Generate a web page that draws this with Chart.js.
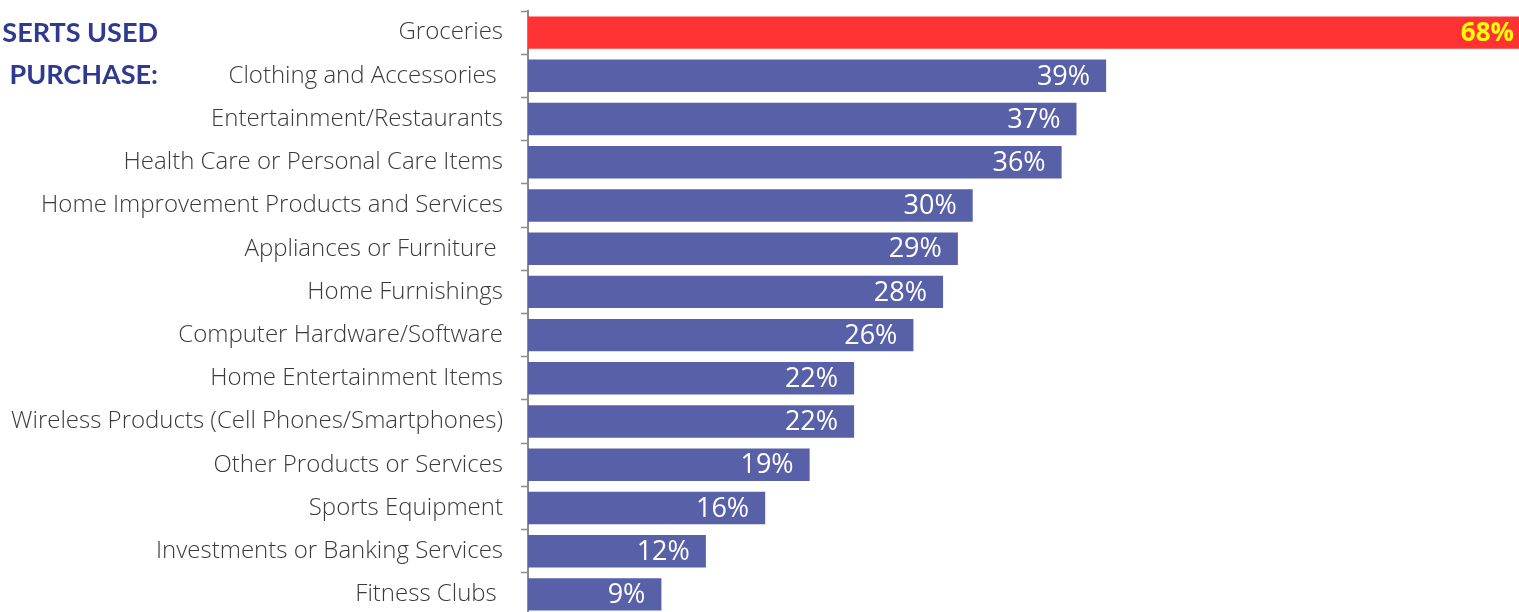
<!DOCTYPE html>
<html>
<head>
<meta charset="utf-8">
<script src="https://cdn.jsdelivr.net/npm/chart.js@4/dist/chart.umd.min.js"></script>
<style>
  html, body { margin: 0; padding: 0; overflow: hidden; background: #fff; }
  #wrap { position: relative; width: 1519px; height: 612px; overflow: hidden; }
  #chart { position: absolute; left: 0; top: 0; }
  .side-title {
    position: absolute; right: 1361px; text-align: right; white-space: nowrap;
    font-family: Lato, "Open Sans", sans-serif; font-weight: bold; font-size: 27px;
    color: #2e3a8e; line-height: 1;
  }
</style>
</head>
<body>
<div id="wrap">
  <canvas id="chart" width="1536" height="620"></canvas>
  <div class="side-title" style="top:18px">SERTS USED</div>
  <div class="side-title" style="top:60px">PURCHASE:</div>
</div>
<script>
// Categorias e percentuais
const categories = [
  'Groceries',
  'Clothing and Accessories ',
  'Entertainment/Restaurants',
  'Health Care or Personal Care Items',
  'Home Improvement Products and Services',
  'Appliances or Furniture ',
  'Home Furnishings',
  'Computer Hardware/Software',
  'Home Entertainment Items',
  'Wireless Products (Cell Phones/Smartphones)',
  'Other Products or Services',
  'Sports Equipment',
  'Investments or Banking Services',
  'Fitness Clubs '
];
const percentages = [68, 39, 37, 36, 30, 29, 28, 26, 22, 22, 19, 16, 12, 9];

const barColors = percentages.map((v, i) => i === 0 ? '#ff3333' : '#5860a8');

// Rótulos de valor dentro das barras
const valueLabels = {
  id: 'valueLabels',
  afterDatasetsDraw(chart) {
    const ctx = chart.ctx;
    const meta = chart.getDatasetMeta(0);
    ctx.save();
    ctx.textAlign = 'right';
    ctx.textBaseline = 'middle';
    meta.data.forEach((bar, i) => {
      if (i === 0) {
        ctx.fillStyle = '#ffff00';
        ctx.font = 'bold 26px "Open Sans", Lato, sans-serif';
      } else {
        ctx.fillStyle = '#ffffff';
        ctx.font = '27px "Open Sans", Lato, sans-serif';
      }
      ctx.fillText(percentages[i] + '%', Math.min(bar.x, 1530) - 16, bar.y + 1);
    });
    ctx.restore();
  }
};

const barChart = new Chart(document.getElementById('chart'), {
  type: 'bar',
  data: {
    labels: categories,
    datasets: [{
      data: percentages,
      backgroundColor: barColors,
      borderWidth: 0,
      categoryPercentage: 1,
      barPercentage: 0.75
    }]
  },
  options: {
    indexAxis: 'y',
    responsive: false,
    animation: false,
    layout: { padding: { top: 11, bottom: 4, right: 0, left: 0 } },
    plugins: {
      legend: { display: false },
      tooltip: { enabled: false }
    },
    scales: {
      x: {
        display: false,
        min: 0,
        max: 68
      },
      y: {
        afterFit(scale) {
          scale.width = 528;
          scale.paddingTop = 0;
          scale.paddingBottom = 0;
        },
        grid: {
          offset: true,
          drawOnChartArea: false,
          tickLength: 7,
          tickColor: '#8c8c8c',
          tickWidth: 1.5
        },
        border: { color: '#8c8c8c', width: 2 },
        ticks: {
          padding: 18,
          color: '#3a3a3a',
          font: { family: '"Open Sans", Lato, sans-serif', size: 24, weight: 300 }
        }
      }
    }
  },
  plugins: [valueLabels]
});
</script>
</body>
</html>
